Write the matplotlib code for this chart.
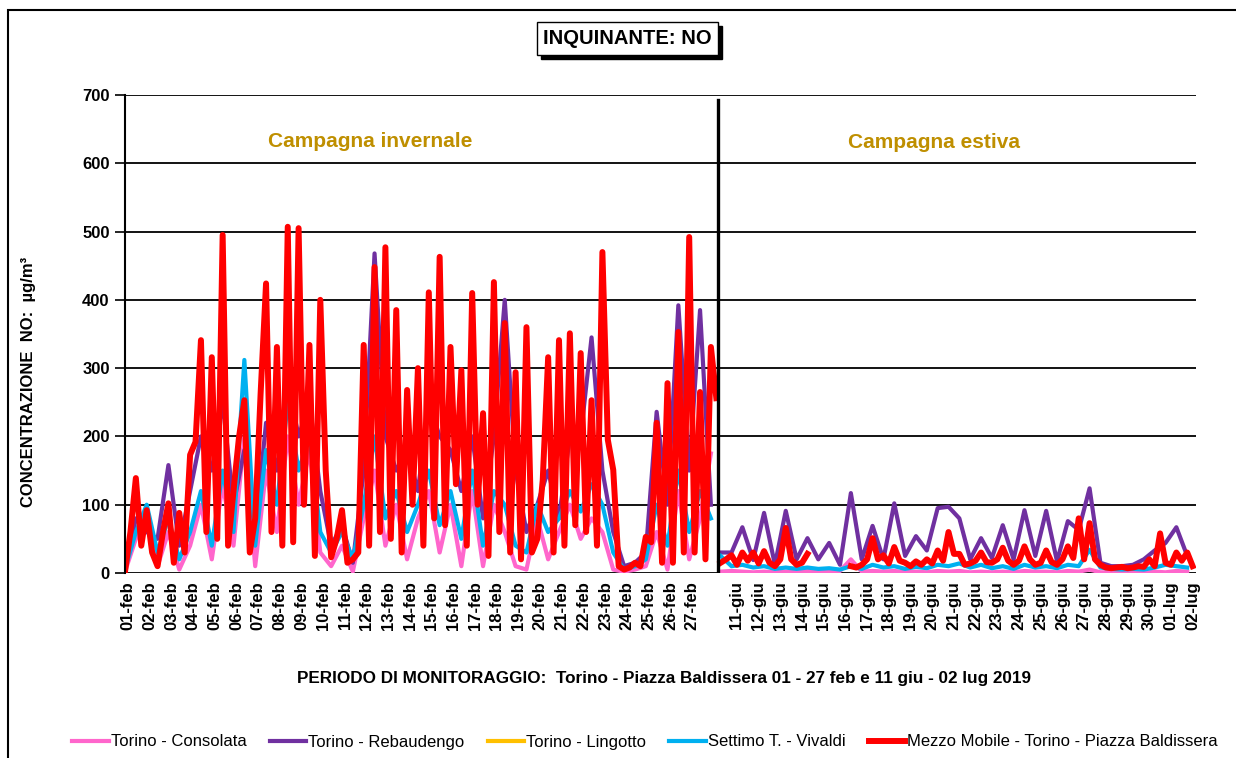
import numpy as np
from matplotlib import pyplot as plt
from matplotlib.patches import Rectangle

# giorni in etichetta
giorni_inverno = ['%02d-feb' % d for d in range(1, 28)]
giorni_estate = ['%02d-giu' % d for d in range(11, 31)] + ['01-lug', '02-lug']

# Mezzo Mobile - Piazza Baldissera (un valore ogni 6 ore)
rosso_inverno = [
    2, 60, 139, 40, 92, 30, 10, 60, 102, 15,
    88, 30, 173, 192, 341, 60, 316, 50, 495, 40,
    120, 198, 253, 30, 80, 263, 424, 60, 331, 40,
    507, 45, 505, 100, 334, 25, 400, 150, 23, 50,
    92, 15, 20, 30, 334, 40, 448, 60, 477, 50,
    385, 30, 268, 100, 300, 40, 411, 80, 463, 70,
    331, 130, 297, 40, 410, 100, 234, 25, 426, 60,
    366, 30, 294, 20, 360, 30, 50, 136, 316, 30,
    341, 40, 351, 70, 322, 60, 253, 40, 470, 195,
    151, 10, 5, 8, 15, 10, 53, 45, 220, 15,
    278, 15, 353, 30, 492, 30, 265, 20, 331, 256,
]
rosso_estate = [
    15, 20, 26, 12, 30, 18, 30, 14, 32, 15,
    10, 20, 66, 20, 12, 15, 28, np.nan, np.nan, np.nan,
    np.nan, np.nan, np.nan, np.nan, 10, 8, 12, 20, 51, 20,
    26, 14, 38, 18, 15, 10, 17, 12, 20, 14,
    33, 18, 60, 28, 28, 12, 14, 18, 30, 16,
    15, 20, 37, 18, 12, 18, 39, 20, 12, 15,
    33, 16, 12, 20, 39, 22, 80, 20, 73, 20,
    12, 8, 7, 8, 9, 7, 8, 10, 9, 20,
    10, 58, 15, 12, 30, 18, 30, 10,
]

# stazioni fisse (un valore ogni 12 ore)
viola_inverno = [
    5, 80, 60, 50, 158, 40, 120, 200, 150, 250,
    100, 180, 60, 220, 150, 280, 200, 250, 120, 40,
    70, 15, 150, 468, 200, 150, 180, 120, 250, 200,
    180, 120, 200, 80, 200, 400, 150, 60, 100, 150,
    80, 200, 200, 345, 150, 60, 10, 15, 30, 236,
    100, 392, 150, 385, 100,
]
viola_estate = [
    30, 30, 67, 19, 88, 12, 91, 20, 51, 20,
    44, 12, 117, 20, 69, 20, 102, 25, 54, 33,
    95, 97, 80, 20, 51, 22, 70, 20, 92, 25,
    91, 17, 76, 63, 124, 15, 10, 10, 12, 20,
    33, 44, 67, 25,
]
blu_inverno = [
    5, 60, 100, 30, 80, 20, 60, 120, 40, 150,
    60, 312, 40, 180, 100, 250, 150, 200, 60, 30,
    60, 20, 100, 200, 80, 120, 60, 100, 150, 70,
    120, 50, 150, 40, 120, 100, 40, 30, 100, 60,
    80, 120, 90, 130, 100, 30, 5, 10, 20, 100,
    40, 150, 60, 120, 80,
]
blu_estate = [
    25, 10, 12, 8, 10, 6, 8, 6, 8, 6,
    7, 5, 10, 6, 12, 8, 10, 6, 9, 7,
    12, 10, 14, 8, 12, 7, 10, 6, 12, 8,
    10, 7, 12, 10, 34, 8, 6, 5, 6, 5,
    8, 12, 10, 8,
]
rosa_inverno = [
    2, 50, 80, 10, 60, 5, 40, 100, 20, 130,
    40, 200, 10, 150, 60, 200, 100, 180, 30, 10,
    40, 2, 80, 150, 40, 100, 20, 80, 120, 30,
    100, 10, 120, 10, 100, 60, 10, 5, 80, 20,
    60, 100, 50, 80, 60, 5, 2, 5, 10, 60,
    5, 120, 20, 80, 175,
]
rosa_estate = [
    2, 3, 2, 1, 2, 1, 2, 1, 3, 2,
    3, 3, 20, 2, 3, 2, 3, 1, 2, 1,
    3, 2, 3, 1, 2, 1, 2, 1, 3, 2,
    2, 1, 3, 2, 5, 1, 1, 0, 1, 0,
    2, 1, 3, 2,
]
giallo_inverno = []
giallo_estate = []

W, H = 1236, 758
fig = plt.figure(figsize=(W / 100, H / 100), dpi=100)
plt.rcParams['font.family'] = ['Liberation Sans', 'DejaVu Sans']
ax = fig.add_axes([125 / W, 1 - 573 / H, 1071 / W, 478 / H])

inizio_estate = 27.45
x6_w = np.arange(len(rosso_inverno)) * 0.25
x6_s = inizio_estate + np.arange(len(rosso_estate)) * 0.25
x12_w = np.arange(len(viola_inverno)) * 0.5
x12_s = inizio_estate + np.arange(len(viola_estate)) * 0.5

serie = [
    ('Torino - Consolata', '#FF66CC', rosa_inverno, rosa_estate),
    ('Torino - Rebaudengo', '#7030A0', viola_inverno, viola_estate),
    ('Torino - Lingotto', '#FFC000', giallo_inverno, giallo_estate),
    ('Settimo T. - Vivaldi', '#00B0F0', blu_inverno, blu_estate),
]
for nome, colore, inv, est in serie:
    ax.plot(x12_w[:len(inv)], inv, color=colore, lw=3, label=nome)
    ax.plot(x12_s[:len(est)], est, color=colore, lw=3)
ax.plot(x6_w, rosso_inverno, color='#FF0000', lw=4.3,
        label='Mezzo Mobile - Torino - Piazza Baldissera')
ax.plot(x6_s, rosso_estate, color='#FF0000', lw=4.3)

# linea di separazione tra le campagne
ax.axvline(27.33, ymax=0.99, color='black', lw=2.4)

ax.set_xlim(0, 1071 / 21.7)
ax.set_ylim(0, 700)
ax.set_yticks(range(0, 701, 100))
ax.grid(axis='y', color='black', lw=1.3)
ax.set_axisbelow(True)
for s in ['top', 'right', 'bottom']:
    ax.spines[s].set_visible(False)
ax.spines['left'].set_linewidth(1.5)
ax.tick_params(axis='y', length=7, width=1.2, labelsize=12, pad=4)
for t in ax.get_yticklabels():
    t.set_fontweight('bold')

pos = [i + 0.14 for i in range(len(giorni_inverno))] + \
      [j + 28.2 for j in range(len(giorni_estate))]
ax.set_xticks(pos)
ax.set_xticklabels(giorni_inverno + giorni_estate, rotation=90,
                   fontsize=12, fontweight='bold')
ax.tick_params(axis='x', length=0, pad=6)

ax.set_ylabel('CONCENTRAZIONE  NO:  µg/m³', fontsize=12, fontweight='bold')
ax.yaxis.set_label_coords(-0.083, 0.40)

ax.text(11.3, 632, 'Campagna invernale', color='#BF8F00', fontsize=15,
        fontweight='bold', ha='center', va='center')
ax.text(37.3, 630, 'Campagna estiva', color='#BF8F00', fontsize=15,
        fontweight='bold', ha='center', va='center')

# titolo in riquadro con ombra
fig.add_artist(Rectangle((541 / W, 1 - 59 / H), 181 / W, 33 / H,
                         transform=fig.transFigure, color='black'))
fig.add_artist(Rectangle((537 / W, 1 - 55 / H), 181 / W, 33 / H,
                         transform=fig.transFigure, facecolor='white',
                         edgecolor='black', lw=1))
fig.text(627.5 / W, 1 - 39 / H, 'INQUINANTE: NO', fontsize=14.5, fontweight='bold',
         ha='center', va='center')

# cornice esterna
fig.add_artist(Rectangle((8 / W, -0.05), 1.2, 1.05 - 10 / H,
                         transform=fig.transFigure, fill=False, lw=1.5))

fig.text(664 / W, 1 - 678 / H,
         'PERIODO DI MONITORAGGIO:  Torino - Piazza Baldissera 01 - 27 feb e 11 giu - 02 lug 2019',
         fontsize=12.3, fontweight='bold', ha='center', va='center')

fig.legend(loc='center', bbox_to_anchor=(645 / W, 1 - 742 / H), ncol=5,
           frameon=False, fontsize=12, handlelength=2.2, handletextpad=0.1,
           columnspacing=1.4)

fig.savefig('out.png', dpi=100)
plt.close(fig)
